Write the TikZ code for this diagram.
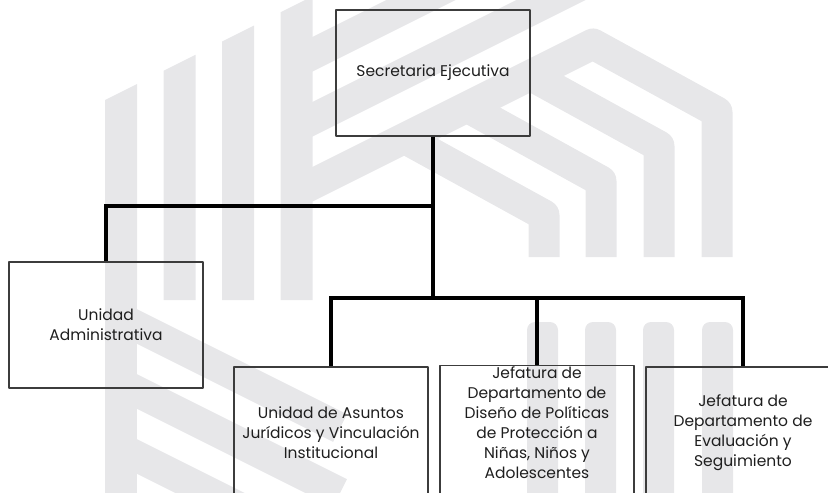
\documentclass[tikz,border=0pt]{standalone}
\usepackage{fontspec}
\setmainfont{Poppins}
\definecolor{marca}{RGB}{231,231,233}
\definecolor{borde}{RGB}{60,60,60}
\definecolor{letra}{RGB}{30,30,30}
\tikzset{
  caja/.style={draw=borde, line width=1.1pt, align=center, text=letra,
    minimum width=194pt, minimum height=126pt, inner sep=2pt},
  rama/.style={line width=4pt, line join=miter},
  franja/.style={draw=marca, line width=31pt}
}
\begin{document}
\begin{tikzpicture}[x=1pt, y=-1pt, font=\fontsize{15.5}{20}\selectfont, line join=round]
	\useasboundingbox (0,0) rectangle (828,493);
	% marca de agua
	\begin{scope}
		\clip[rounded corners=30pt] (105,-40) rectangle (735,560);
		\foreach \xa in {105,163.5,222,280.5}
		{\fill[marca] (\xa,{100-0.5*(\xa-105)}) -- ++(32,-16) -- (\xa+32,300) -- (\xa,300) -- cycle;}
		\fill[marca] (105,300) rectangle (137,500);
		\foreach \c in {310,375,440,505}
		{\draw[franja] (80,\c-12) -- (340,\c+118);}
		\draw[franja] (297,192) -- (593,44) -- (717,112) -- (717,257);
		\draw[franja] (530,75) -- (659,146) -- (659,257);
		\draw[franja] (467,107) -- (601,181) -- (601,257);
		\draw[franja] (404,138) -- (544,215) -- (544,257);
		\draw[franja] (297,127) -- (591,-20);
		\draw[franja] (297,62) -- (461,-20);
		\foreach \xa in {527,585,643,702}
		{\fill[marca, rounded corners=8pt] (\xa,322) rectangle (\xa+31,520);}
	\end{scope}
	% organigrama
	\node[caja] (secre) at (433,73) {Secretaria Ejecutiva};
	\node[caja] (admin) at (106,325) {Unidad\\Administrativa};
	\node[caja, minimum height=132pt] (juri) at (331,433) {Unidad de Asuntos\\Jurídicos y Vinculación\\Institucional};
	\node[caja, minimum height=132pt] (dise) at (537,433) {Jefatura de\\Departamento de\\Diseño de Políticas\\de Protección a\\Niñas, Niños y\\Adolescentes\\\mbox{}};
	\node[caja, minimum height=132pt] (eval) at (743,433) {Jefatura de\\Departamento de\\Evaluación y\\Seguimiento};
	\coordinate (nudo1) at (433,206);
	\coordinate (nudo2) at (433,298);
	\draw[rama] (secre.south) -- (nudo2);
	\draw[rama] (nudo1) -| (admin.north);
	\draw[rama] (juri.north) |- (nudo2) -| (eval.north);
	\draw[rama] (dise.north) -- (dise.north |- nudo2);
\end{tikzpicture}
\end{document}
